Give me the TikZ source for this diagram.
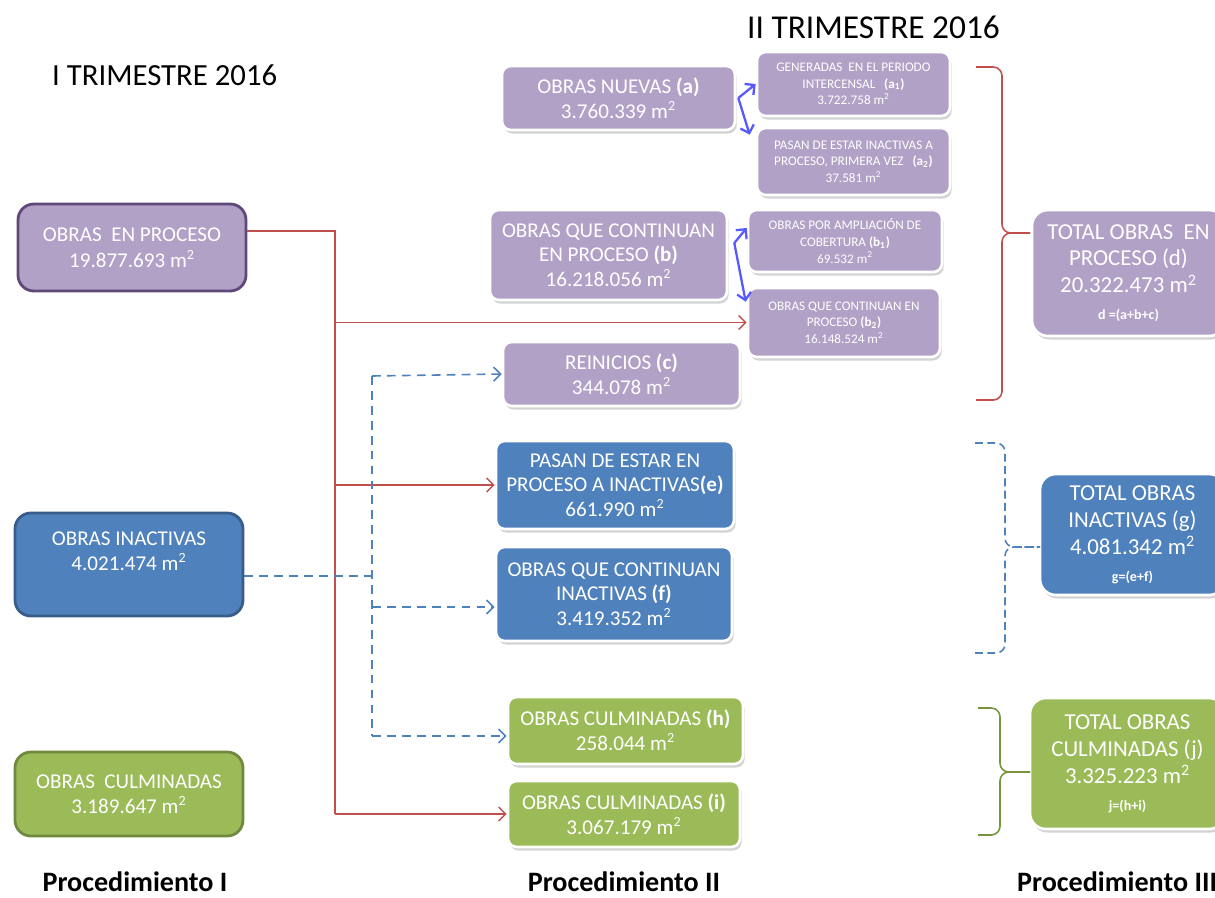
\documentclass[tikz,border=0pt]{standalone}
\usepackage{fontspec}
\setmainfont{Carlito}
\usepackage{tikz}
\usetikzlibrary{positioning, calc, shadows, arrows.meta}

\definecolor{procfill}{HTML}{B2A1C7}
\definecolor{procline}{HTML}{5F497A}
\definecolor{inactfill}{HTML}{4F81BD}
\definecolor{inactline}{HTML}{385D8A}
\definecolor{culmfill}{HTML}{9BBB59}
\definecolor{culmline}{HTML}{71893F}
\definecolor{redline}{HTML}{C0504D}
\definecolor{greenbrace}{HTML}{77933C}
\definecolor{splitblue}{RGB}{88,88,255}

\begin{document}
\begin{tikzpicture}[x=0.02cm, y=-0.02cm, >={Straight Barb[length=4pt, width=8pt]}]
        % Define block styles
        \tikzstyle{startbox} = [rectangle, draw, line width=1.6pt, rounded corners=9pt, text=white, align=center, inner sep=0pt, font=\fontsize{12}{14.5}\selectfont]
        \tikzstyle{boxtext} = [text=white, align=center, inner sep=0pt, font=\fontsize{12}{14.5}\selectfont]
        \tikzstyle{block} = [rectangle, draw=white, line width=1.5pt, rounded corners=5pt, text=white, align=center, inner sep=0pt, font=\fontsize{12}{14}\selectfont, drop shadow={opacity=0.35, shadow xshift=1pt, shadow yshift=-2pt}]
        \tikzstyle{smallblock} = [block, font=\fontsize{7.5}{9.5}\selectfont]
        \tikzstyle{totalblock} = [block, rounded corners=9pt, font=\fontsize{13}{15.3}\selectfont]
        \tikzstyle{redflow} = [draw=redline, line width=0.8pt]
        \tikzstyle{blueflow} = [draw=inactfill, line width=0.9pt, dash pattern=on 5pt off 3.5pt]
        \tikzstyle{splitflow} = [draw=splitblue, line width=1.3pt, ->]
        \tikzstyle{bracket} = [line width=0.9pt, rounded corners=5pt]

        \useasboundingbox (0,0) rectangle (1215,897);

        % Titles
        \node[anchor=west, font=\fontsize{17.5}{20}\selectfont] (trimI) at (46,75) {I TRIMESTRE 2016};
        \node[anchor=west, font=\fontsize{19}{22}\selectfont] (trimII) at (741,27) {II TRIMESTRE 2016};

        % Place nodes: procedimiento I
        \node [startbox, fill=procfill, draw=procline, minimum width=4.56cm, minimum height=1.74cm] (procI) at (132,247.5) {OBRAS~ EN PROCESO\\19.877.693 m\textsuperscript{2}};
        \node [startbox, fill=inactfill, draw=inactline, minimum width=4.56cm, minimum height=2.06cm] (inactI) at (129,564.5) {};
        \node [boxtext] (inactItext) at (129,551) {OBRAS INACTIVAS\\4.021.474 m\textsuperscript{2}};
        \node [startbox, fill=culmfill, draw=culmline, minimum width=4.56cm, minimum height=1.68cm] (culmI) at (129,794) {OBRAS~ CULMINADAS\\3.189.647 m\textsuperscript{2}};

        % Place nodes: procedimiento II
        \node [block, fill=procfill, minimum width=4.66cm, minimum height=1.28cm] (a) at (618.5,98) {OBRAS NUEVAS \textbf{(a)}\\3.760.339 m\textsuperscript{2}};
        \node [smallblock, fill=procfill, minimum width=3.86cm, minimum height=1.28cm] (a1) at (853.5,84) {GENERADAS~ EN EL PERIODO\\INTERCENSAL~~ \textbf{(a\textsubscript{1})}\\3.722.758 m\textsuperscript{2}};
        \node [smallblock, fill=procfill, minimum width=3.86cm, minimum height=1.34cm] (a2) at (853.5,161.5) {PASAN DE ESTAR INACTIVAS A\\PROCESO, PRIMERA VEZ~~ \textbf{(a\textsubscript{2})}\\37.581 m\textsuperscript{2}};
        \node [block, fill=procfill, minimum width=4.74cm, minimum height=1.8cm] (b) at (608.5,255) {OBRAS QUE CONTINUAN\\EN PROCESO \textbf{(b)}\\16.218.056 m\textsuperscript{2}};
        \node [smallblock, fill=procfill, minimum width=3.88cm, minimum height=1.24cm] (b1) at (845,241) {OBRAS POR AMPLIACIÓN DE\\COBERTURA \textbf{(b\textsubscript{1})}\\69.532 m\textsuperscript{2}};
        \node [smallblock, fill=procfill, minimum width=3.84cm, minimum height=1.38cm] (b2) at (844,322.5) {OBRAS QUE CONTINUAN EN\\PROCESO \textbf{(b\textsubscript{2})}\\16.148.524 m\textsuperscript{2}};
        \node [block, fill=procfill, minimum width=4.74cm, minimum height=1.28cm] (c) at (621.5,374) {REINICIOS \textbf{(c)}\\344.078 m\textsuperscript{2}};
        \node [block, fill=inactfill, minimum width=4.76cm, minimum height=1.76cm] (e) at (615,485) {PASAN DE ESTAR EN\\PROCESO A INACTIVAS\textbf{(e)}\\661.990 m\textsuperscript{2}};
        \node [block, fill=inactfill, minimum width=4.72cm, minimum height=1.88cm] (f) at (614,594) {OBRAS QUE CONTINUAN\\INACTIVAS \textbf{(f)}\\3.419.352 m\textsuperscript{2}};
        \node [block, fill=culmfill, minimum width=4.70cm, minimum height=1.34cm] (h) at (625.5,730.5) {OBRAS CULMINADAS \textbf{(h)}\\258.044 m\textsuperscript{2}};
        \node [block, fill=culmfill, minimum width=4.64cm, minimum height=1.32cm] (i) at (624,814) {OBRAS CULMINADAS \textbf{(i)}\\3.067.179 m\textsuperscript{2}};

        % Place nodes: procedimiento III
        \node [totalblock, fill=procfill, minimum width=3.86cm, minimum height=2.52cm] (d) at (1128.5,273) {TOTAL OBRAS~ EN\\PROCESO (d)\\20.322.473 m\textsuperscript{2}\\{\fontsize{8}{10}\selectfont\bfseries d =(a+b+c)}};
        \node [totalblock, fill=inactfill, minimum width=3.7cm, minimum height=2.42cm] (g) at (1132.5,534.5) {TOTAL OBRAS\\INACTIVAS (g)\\4.081.342 m\textsuperscript{2}\\{\fontsize{8}{10}\selectfont\bfseries g=(e+f)}};
        \node [totalblock, fill=culmfill, minimum width=3.9cm, minimum height=2.62cm] (j) at (1127.5,763.5) {TOTAL OBRAS\\CULMINADAS (j)\\3.325.223 m\textsuperscript{2}\\{\fontsize{8}{10}\selectfont\bfseries j=(h+i)}};

        % Draw connections as arrows
        \coordinate (rtop) at (335,231);
        \coordinate (rbot) at (335,814);
        \draw [redflow] (procI.east |- rtop) -- (rtop) -- (rbot);
        \draw [redflow, ->] (rtop |- b2.west) -- (b2.west);
        \draw [redflow, ->] (rtop |- e.west) -- (e.west);
        \draw [redflow, ->] (rbot) -- (i.west);

        \coordinate (bmid) at (372,576);
        \coordinate (btop) at (372,376);
        \coordinate (bbot) at (372,736);
        \coordinate (fin) at ($(f.west)+(0,13)$);
        \draw [blueflow] (inactI.east |- bmid) -- (bmid);
        \draw [blueflow] (btop) -- (bbot);
        \draw [blueflow, ->] (btop) -- (c.west);
        \draw [blueflow, ->] (btop |- fin) -- (fin);
        \draw [blueflow, ->] (bbot) -- (h.west |- bbot);

        \coordinate (asplit) at ($(a.east)+(2,0)$);
        \draw [splitflow] (asplit) -- (a1.west);
        \draw [splitflow] (asplit) -- ($(a2.north west)+(-6,8)$);
        \coordinate (bsplit) at ($(b.east)+(6,-12)$);
        \draw [splitflow] (bsplit) -- ($(b1.west)+(0,-13)$);
        \draw [splitflow] (bsplit) -- ($(b2.north west)+(-1,15)$);

        % Brackets to the totals
        \coordinate (dtip) at (1030,233);
        \draw [bracket, redline] (976,67) -- (1002,67) -- (1002,233) -- (dtip);
        \draw [bracket, redline] (976,400) -- (1002,400) -- (1002,233) -- (dtip);
        \coordinate (gtip) at (1040,547);
        \draw [bracket, inactfill, dash pattern=on 4.5pt off 2.5pt] (975,443) -- (1005,443) -- (1005,547) -- (gtip);
        \draw [bracket, inactfill, dash pattern=on 4.5pt off 2.5pt] (975,653) -- (1005,653) -- (1005,547) -- (gtip);
        \coordinate (jtip) at (1030,772);
        \draw [bracket, greenbrace] (978,708) -- (1000,708) -- (1000,772) -- (jtip);
        \draw [bracket, greenbrace] (978,835) -- (1000,835) -- (1000,772) -- (jtip);

        % Subtitles under the columns
        \node[font=\bfseries\fontsize{16}{19}\selectfont] (procedI) at (135,882) {Procedimiento I};
        \node[font=\bfseries\fontsize{16}{19}\selectfont] (procedII) at (624,882) {Procedimiento II};
        \node[anchor=west, font=\bfseries\fontsize{16}{19}\selectfont] (procedIII) at (1011,882) {Procedimiento III};
    \end{tikzpicture}
\end{document}
